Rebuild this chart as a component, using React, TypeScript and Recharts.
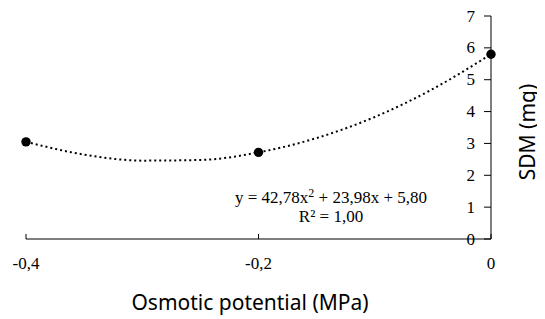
import React from 'react';
import { ComposedChart, XAxis, YAxis, Line, Scatter } from 'recharts';

const observedX = [-0.4, -0.2, 0];
const observedSDM = [3.05, 2.72, 5.8];
const trendX = [-0.4, -0.35, -0.3, -0.25, -0.2, -0.15, -0.1, -0.05, 0];
const trendSDM = [3.05, 2.65, 2.46, 2.48, 2.72, 3.17, 3.83, 4.71, 5.8];
const xTicks = [-0.4, -0.2, 0];
const yTicks = [0, 1, 2, 3, 4, 5, 6, 7];
const xLabel = 'Osmotic potential (MPa)';
const yLabel = 'SDM (mg)';

const points = observedX.map((x, i) => ({ x, y: observedSDM[i] }));
const trend = trendX.map((x, i) => ({ x, y: trendSDM[i] }));

const fmt = (v: number) => String(v).replace('.', ',');
const serif = '"Liberation Serif", "Times New Roman", serif';
const sans = '"Noto Sans", "Open Sans", sans-serif';

const TICK_MARGIN = 30;
const XTick = (props: any) => {
  const { x, y, payload } = props;
  const axisY = y - TICK_MARGIN;
  return (
    <g>
      <line x1={x} y1={axisY} x2={x} y2={axisY - 5} stroke="#000" strokeWidth={1} />
      <text x={x} y={y} textAnchor="middle" style={{ fontFamily: serif, fontSize: 17 }} fill="#000">
        {fmt(payload.value)}
      </text>
    </g>
  );
};

const YTick = (props: any) => {
  const { x, y, payload } = props;
  return (
    <text
      x={x}
      y={y + 5.5}
      textAnchor="end"
      style={{ fontFamily: serif, fontSize: 17 }}
      fill="#000"
    >
      {fmt(payload.value)}
    </text>
  );
};

export default function App() {
  return (
    <div style={{ position: 'relative', width: 537, height: 311 }}>
      <ComposedChart
        width={537}
        height={311}
        margin={{ top: 8, left: 18, right: 54, bottom: 50 }}
      >
        <XAxis
          type="number"
          dataKey="x"
          domain={[-0.4, 0]}
          ticks={xTicks}
          height={30}
          axisLine={{ stroke: '#000', strokeWidth: 1 }}
          tickLine={false}
          tickSize={0}
          tickMargin={TICK_MARGIN}
          tick={<XTick />}
          interval={0}
        />
        <YAxis
          type="number"
          dataKey="y"
          orientation="right"
          domain={[0, 7]}
          ticks={yTicks}
          width={40}
          mirror
          axisLine={{ stroke: '#000', strokeWidth: 1 }}
          tickLine={{ stroke: '#000' }}
          tickSize={7}
          tickMargin={9}
          interval={0}
          tick={<YTick />}
        />
        <Line
          data={trend}
          dataKey="y"
          type="monotone"
          stroke="#000"
          strokeWidth={2}
          strokeDasharray="2 3"
          dot={false}
          activeDot={false}
          isAnimationActive={false}
        />
        <Scatter
          data={points}
          dataKey="y"
          fill="#000"
          shape={(p: any) => <circle cx={p.cx} cy={p.cy} r={4.7} fill="#000" />}
          isAnimationActive={false}
        />
        <text x={323} y={195} textAnchor="middle" style={{ fontFamily: serif, fontSize: 17 }} fill="#000">
          y = 42,78x<tspan dy={-6} style={{ fontSize: 12 }}>2</tspan>
          <tspan dy={6}> + 23,98x + 5,80</tspan>
        </text>
        <text x={323} y={214} textAnchor="middle" style={{ fontFamily: serif, fontSize: 17 }} fill="#000">
          R² = 1,00
        </text>
        <text x={242} y={302} textAnchor="middle" style={{ fontFamily: sans, fontSize: 21 }} fill="#000">
          {xLabel}
        </text>
        <text
          x={519}
          y={124}
          textAnchor="middle"
          dominantBaseline="central"
          transform="rotate(-90 519 124)"
          style={{ fontFamily: sans, fontSize: 21 }}
          fill="#000"
        >
          {yLabel}
        </text>
      </ComposedChart>
    </div>
  );
}
